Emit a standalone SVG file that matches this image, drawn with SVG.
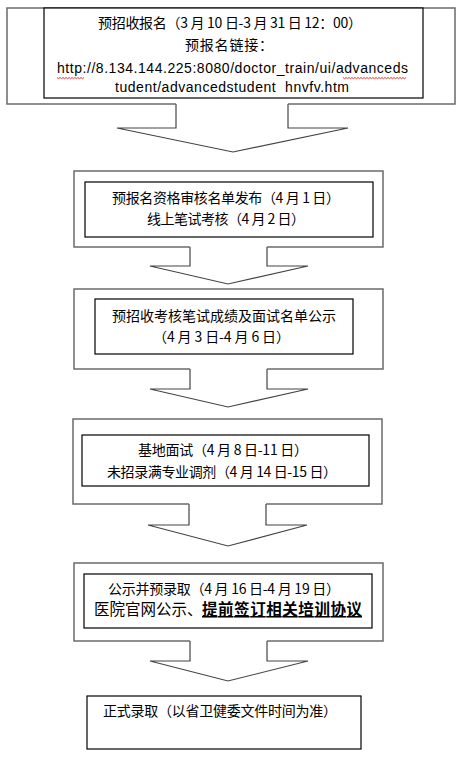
<svg xmlns="http://www.w3.org/2000/svg" width="464" height="760" viewBox="0 0 464 760">
<style>
.frame{fill:none;stroke:#6b6b6b;stroke-width:1.5}
.arrow{fill:none;stroke:#444;stroke-width:1.2;stroke-linejoin:miter}
.inner{fill:#fff;stroke:#000;stroke-width:1.2}
.t{font-family:"Noto Sans CJK SC","Liberation Sans",sans-serif;font-size:14px;fill:#000}
.u{font-family:"Liberation Sans","Noto Sans CJK SC",sans-serif;font-size:14px;fill:#000}
.wavy{fill:none;stroke:#e02020;stroke-width:0.9}
</style>
<rect width="464" height="760" fill="#fff"/>
<g id="connectors">
<path class="arrow" d="M176,104 V128 H117 L233,152 L348,128 H288 V104"/>
<path class="arrow" d="M190,247 V266 H150 L228,284 L308,266 H267 V247"/>
<path class="arrow" d="M190,369 V389 H150 L228,407 L308,389 H267 V369"/>
<path class="arrow" d="M189,504 V525 H148 L228,546 L307,525 H266 V504"/>
<path class="arrow" d="M190,641 V661 H150 L228,681 L308,661 H267 V641"/>
</g>
<g id="node1">
<path class="frame" d="M176,104 H7 V8 H455 V104 H288"/>
<rect class="inner" x="44" y="8" width="379" height="90"/>
<text class="t" x="98" y="28" textLength="264">预招收报名（3 月 10 日-3 月 31 日 12：00）</text>
<text class="t" x="185" y="50" textLength="88">预报名链接：</text>
<text class="u" x="57" y="73" textLength="351">http://8.134.144.225:8080/doctor_train/ui/advanceds</text>
<text class="u" x="115" y="92" textLength="234" xml:space="preserve">tudent/advancedstudent  hnvfv.htm</text>
<path class="wavy" d="M57,77.5 l1.5,1.2 l1.5,-1.2 l1.5,1.2 l1.5,-1.2 l1.5,1.2 l1.5,-1.2 l1.5,1.2 l1.5,-1.2 l1.5,1.2 l1.5,-1.2 l1.5,1.2 l1.5,-1.2 l1.5,1.2 l1.5,-1.2 l1.5,1.2 l1.5,-1.2 l1.5,1.2 l1.5,-1.2"/>
<path class="wavy" d="M343,77.5 l1.5,1.2 l1.5,-1.2 l1.5,1.2 l1.5,-1.2 l1.5,1.2 l1.5,-1.2 l1.5,1.2 l1.5,-1.2 l1.5,1.2 l1.5,-1.2 l1.5,1.2 l1.5,-1.2 l1.5,1.2 l1.5,-1.2 l1.5,1.2 l1.5,-1.2 l1.5,1.2 l1.5,-1.2 l1.5,1.2 l1.5,-1.2 l1.5,1.2 l1.5,-1.2 l1.5,1.2 l1.5,-1.2 l1.5,1.2 l1.5,-1.2 l1.5,1.2 l1.5,-1.2 l1.5,1.2 l1.5,-1.2 l1.5,1.2 l1.5,-1.2 l1.5,1.2 l1.5,-1.2 l1.5,1.2 l1.5,-1.2 l1.5,1.2 l1.5,-1.2 l1.5,1.2 l1.5,-1.2 l1.5,1.2 l1.5,-1.2"/>
</g>
<g id="node2">
<path class="frame" d="M190,247 H74 V171 H383 V247 H267"/>
<rect class="inner" x="85" y="182" width="288" height="55"/>
<text class="t" x="112" y="203" textLength="228">预报名资格审核名单发布（4 月 1 日）</text>
<text class="t" x="147" y="224" textLength="158">线上笔试考核（4 月 2 日）</text>
</g>
<g id="node3">
<path class="frame" d="M190,369 H74 V289 H383 V369 H267"/>
<rect class="inner" x="95" y="299" width="258" height="55"/>
<text class="t" x="112" y="321" textLength="224">预招收考核笔试成绩及面试名单公示</text>
<text class="t" x="153" y="342" textLength="137">（4 月 3 日-4 月 6 日）</text>
</g>
<g id="node4">
<path class="frame" d="M189,504 H73 V419 H382 V504 H266"/>
<rect class="inner" x="82" y="435" width="287" height="51"/>
<text class="t" x="138" y="455" textLength="170">基地面试（4 月 8 日-11 日）</text>
<text class="t" x="107" y="477" textLength="230">未招录满专业调剂（4 月 14 日-15 日）</text>
</g>
<g id="node5">
<path class="frame" d="M190,641 H74 V563 H383 V641 H267"/>
<rect class="inner" x="84" y="574" width="288" height="54"/>
<text class="t" x="108" y="594" textLength="232">公示并预录取（4 月 16 日-4 月 19 日）</text>
<text class="t" x="94" y="615" style="font-size:15.5px">医院官网公示、</text>
<text class="t" x="202" y="615" style="font-size:15.5px;font-weight:bold;text-decoration:underline" textLength="160">提前签订相关培训协议</text>
</g>
<g id="node6">
<rect class="inner" x="87" y="696" width="274" height="53"/>
<text class="t" x="103" y="716" textLength="234">正式录取（以省卫健委文件时间为准）</text>
</g>
</svg>
